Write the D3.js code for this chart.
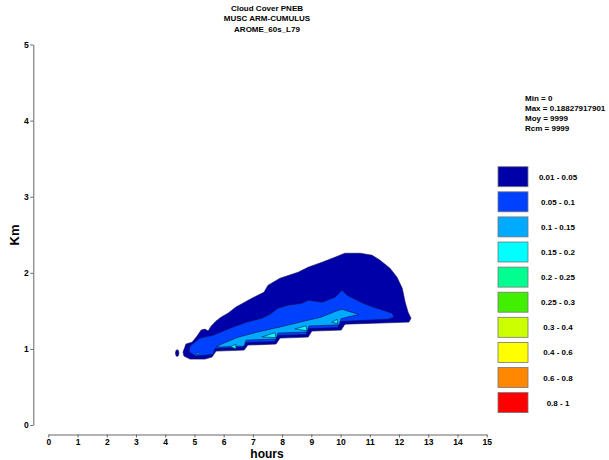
<!DOCTYPE html>
<html>
<head>
<meta charset="utf-8">
<script src="https://cdn.jsdelivr.net/npm/d3@7"></script>
<style>
  body { margin: 0; background: #fff; }
  text { font-family: "Liberation Sans", Arial, sans-serif; font-weight: bold; }
</style>
</head>
<body>
<div class="chart"></div>
<script>
const titleLines = ['Cloud Cover PNEB', 'MUSC ARM-CUMULUS', 'AROME_60s_L79'];
const statLines = ['Min = 0', 'Max = 0.18827917901', 'Moy = 9999', 'Rcm = 9999'];

const legendLabels = ['0.01 - 0.05', '0.05 - 0.1', '0.1 - 0.15', '0.15 - 0.2', '0.2 - 0.25',
  '0.25 - 0.3', '0.3 - 0.4', '0.4 - 0.6', '0.6 - 0.8', '0.8 - 1'];
const legendColors = ['#0000a8', '#0040ff', '#00aaff', '#00ffff', '#00ff90',
  '#40f000', '#ccff00', '#ffff00', '#ff8800', '#ff0000'];

const xTicks = d3.range(0, 16);
const yTicks = [0, 1, 2, 3, 4, 5];

// contour outlines, [hours, km], with the band index they fill
const band1 = [[4.61,0.958],[4.71,1.063],[4.92,1.089],[5.09,1.168],[5.23,1.247],[5.36,1.26],[5.47,1.234],
  [5.57,1.299],[5.74,1.365],[5.91,1.417],[6.15,1.47],[6.42,1.549],[6.66,1.601],[6.97,1.667],[7.38,1.745],
  [7.52,1.837],[7.93,1.929],[8.55,2.008],[8.89,2.073],[9.37,2.139],[9.81,2.205],[10.15,2.257],[10.67,2.257],
  [11.08,2.231],[11.35,2.165],[11.69,2.06],[11.93,1.942],[12.11,1.798],[12.21,1.614],[12.31,1.483],
  [12.41,1.404],[12.34,1.352],[10.15,1.325],[10.02,1.247],[9.02,1.234],[8.89,1.155],[7.93,1.142],
  [7.79,1.063],[6.83,1.05],[6.7,0.984],[5.74,0.971],[5.6,0.892],[5.36,0.866],[4.85,0.866],[4.64,0.906]];
const band1b = [[4.35,0.945],[4.37,0.98],[4.41,0.99],[4.45,0.98],[4.47,0.945],[4.45,0.91],[4.41,0.9],[4.37,0.91]];
const band2 = [[4.85,1.037],[5.19,1.142],[5.64,1.181],[6.22,1.273],[6.49,1.312],[6.8,1.352],[7.31,1.404],
  [7.59,1.457],[7.86,1.535],[8.2,1.575],[8.68,1.601],[8.89,1.64],[9.37,1.614],[9.81,1.68],[10.05,1.772],
  [10.22,1.706],[10.43,1.667],[10.77,1.601],[11.11,1.549],[11.45,1.509],[11.76,1.47],[11.83,1.417],
  [11.63,1.391],[9.98,1.36],[9.91,1.281],[8.89,1.268],[8.82,1.189],[7.83,1.176],[7.76,1.097],
  [6.73,1.084],[6.66,1.019],[5.7,1.005],[5.64,0.927],[5.05,0.906],[4.82,0.958]];
const band3 = [[5.75,1.034],[6.46,1.15],[7.14,1.22],[7.93,1.288],[8.61,1.352],[9.3,1.414],[9.88,1.5],
  [10.05,1.522],[10.62,1.452],[10.02,1.398],[9.95,1.316],[8.92,1.301],[8.85,1.222],[7.86,1.208],
  [7.79,1.13],[6.77,1.115],[6.7,1.037],[5.88,1.024]];
const band3b = [[5.07,0.94],[5.12,0.96],[5.17,0.945],[5.12,0.922]];
const band4a = [[6.22,1.03],[6.42,1.06],[6.42,1.0]];
const band4b = [[7.31,1.158],[7.76,1.214],[7.79,1.148]];
const band4c = [[8.44,1.262],[8.82,1.304],[8.85,1.238]];
const band4d = [[9.7,1.35],[9.88,1.39],[9.91,1.332]];

const shapes = [
  { band: 0, pts: band1 }, { band: 0, pts: band1b },
  { band: 1, pts: band2 },
  { band: 2, pts: band3 }, { band: 2, pts: band3b },
  { band: 3, pts: band4a }, { band: 3, pts: band4b }, { band: 3, pts: band4c }, { band: 3, pts: band4d }
];

const width = 609, height = 460;

const svg = d3.select('.chart').append('svg')
  .attr('width', width)
  .attr('height', height);

svg.append('rect').attr('width', width).attr('height', height).attr('fill', '#fff');

const x = d3.scaleLinear().domain([0, 15]).range([48.3, 486.7]);
const y = d3.scaleLinear().domain([0, 5]).range([425, 44.5]);

const line = d3.line()
  .x((d) => x(d[0]))
  .y((d) => y(d[1]))
  .curve(d3.curveLinearClosed);

svg.append('g')
  .selectAll('path')
  .data(shapes)
  .enter()
  .append('path')
  .attr('d', (d) => line(d.pts))
  .attr('fill', (d) => legendColors[d.band])
  .attr('stroke', '#10104a')
  .attr('stroke-width', 0.6)
  .attr('stroke-linejoin', 'round');

// axes
const xAxis = svg.append('g')
  .attr('transform', 'translate(0,434.5)')
  .call(d3.axisBottom(x).tickValues(xTicks).tickFormat(d3.format('d'))
    .tickSize(3).tickSizeOuter(0).tickPadding(1));
const yAxis = svg.append('g')
  .attr('transform', 'translate(33.3,0)')
  .call(d3.axisLeft(y).tickValues(yTicks).tickFormat(d3.format('d'))
    .tickSize(3).tickSizeOuter(0).tickPadding(1.5));

[xAxis, yAxis].forEach((g) => {
  g.select('.domain').attr('stroke', '#666');
  g.selectAll('.tick line').attr('stroke', '#666');
  g.selectAll('.tick text')
    .attr('font-size', '8.5px')
    .attr('font-family', '"Liberation Sans", Arial, sans-serif')
    .attr('font-weight', 'bold')
    .attr('fill', '#000');
});

svg.append('text')
  .attr('x', 267)
  .attr('y', 457.5)
  .attr('text-anchor', 'middle')
  .attr('font-size', '12px')
  .text('hours');

svg.append('text')
  .attr('transform', 'translate(19,235) rotate(-90)')
  .attr('text-anchor', 'middle')
  .attr('font-size', '13px')
  .text('Km');

// title
svg.append('g')
  .selectAll('text')
  .data(titleLines)
  .enter()
  .append('text')
  .attr('x', 267)
  .attr('y', (d, i) => 10.5 + i * 10.5)
  .attr('text-anchor', 'middle')
  .attr('font-size', '8px')
  .text((d) => d);

// stats
svg.append('g')
  .selectAll('text')
  .data(statLines)
  .enter()
  .append('text')
  .attr('x', 525)
  .attr('y', (d, i) => 101 + i * 10)
  .attr('font-size', '8px')
  .text((d) => d);

// legend
const legend = svg.append('g')
  .selectAll('g')
  .data(legendLabels)
  .enter()
  .append('g')
  .attr('transform', (d, i) => `translate(498,${166.7 + i * 25.1})`);

legend.append('rect')
  .attr('width', 30)
  .attr('height', 20)
  .attr('fill', (d, i) => legendColors[i])
  .attr('stroke', '#777')
  .attr('stroke-width', 0.8);

legend.append('text')
  .attr('x', 60)
  .attr('y', 13)
  .attr('text-anchor', 'middle')
  .attr('font-size', '8px')
  .text((d) => d);
</script>
</body>
</html>
